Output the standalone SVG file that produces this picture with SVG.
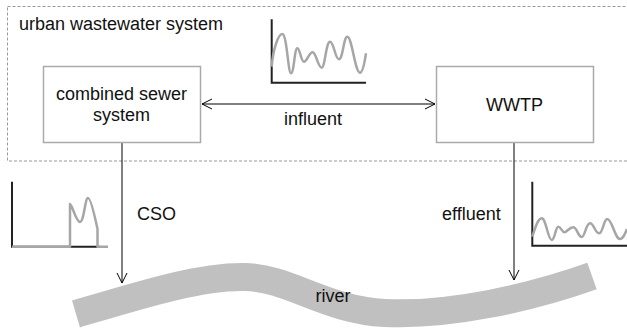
<svg xmlns="http://www.w3.org/2000/svg" width="627" height="331" viewBox="0 0 627 331">
<defs>
<style>
.t{font-family:"Liberation Sans",Arial,sans-serif;font-size:18px;fill:#111}
.box{fill:#fff;stroke:#aaa;stroke-width:1.5}
.con{stroke:#000;stroke-width:1;fill:none}
.axis{stroke:#222;stroke-width:2;fill:none}
.wave{stroke:#a6a6a6;stroke-width:2.5;fill:none;stroke-linejoin:round}
</style>
<marker id="arr" markerUnits="userSpaceOnUse" markerWidth="12" markerHeight="12" refX="10" refY="5" orient="auto-start-reverse" viewBox="0 0 12 10">
<path d="M0,0 L10,5 L0,10" fill="none" stroke="#000" stroke-width="1"/>
</marker>
</defs>
<rect width="627" height="331" fill="#fff"/>
<g id="system-boundary">
<rect x="7.5" y="6.5" width="630" height="154.5" fill="none" stroke="#999" stroke-width="1" stroke-dasharray="3,2"/>
<text class="t" x="19" y="30">urban wastewater system</text>
</g>
<g id="river">
<path d="M76,314 C140,295 200,276 245,277 C290,278 325,310 385,313 C450,316 530,298 592,276" fill="none" stroke="#c0c0c0" stroke-width="28"/>
<text class="t" x="333" y="302" text-anchor="middle">river</text>
</g>
<g id="connectors">
<line class="con" x1="202" y1="104" x2="435" y2="104" marker-start="url(#arr)" marker-end="url(#arr)"/>
<line class="con" x1="122" y1="142" x2="122" y2="283" marker-end="url(#arr)"/>
<line class="con" x1="514" y1="142" x2="514" y2="280" marker-end="url(#arr)"/>
<text class="t" x="284" y="125">influent</text>
<text class="t" x="137" y="220">CSO</text>
<text class="t" x="442" y="220">effluent</text>
</g>
<g id="combined-sewer">
<rect class="box" x="43.5" y="66.5" width="157" height="76"/>
<text class="t" x="121.5" y="100" text-anchor="middle">combined sewer</text>
<text class="t" x="121.5" y="121" text-anchor="middle">system</text>
</g>
<g id="wwtp">
<rect class="box" x="436.5" y="66.5" width="157" height="76"/>
<text class="t" x="514.5" y="111" text-anchor="middle">WWTP</text>
</g>
<g id="influent-chart">
<path class="axis" d="M271.7,19.3 V82.7 H366"/>
<path class="wave" d="M271.7,66.7 C273,50 278,34 282.3,34 C287,34 288,73.3 291,73.3 C294,73.3 294.5,48.3 297.3,48.3 C300,48.3 301,61.7 304,61.7 C307,61.7 309,52.3 312.7,52.3 C316,52.3 318,67.7 321.7,67.7 C325,67.7 326,41.7 330,41.7 C334,41.7 335,59.3 339,59.3 C343,59.3 343.5,36.7 347.3,36.7 C352,36.7 355,72.7 360,72.7 C363,72.7 365,60 366,53.3"/>
</g>
<g id="cso-chart">
<path class="axis" d="M12,181.7 V246.7 H100"/>
<path class="wave" d="M12,246.7 L70,246.7 L70,204 C72,204 76,222 80,222 C84,222 85,198 88,198 C91,198 96,222 97.5,229 L97.5,246.7 L108,246.7"/>
</g>
<g id="effluent-chart">
<path class="axis" d="M532.3,181.7 V245.7 H627"/>
<path class="wave" d="M532.3,236.7 C535,228 538,218.3 541.7,218.3 C546,218.3 548,240 551.7,240 C555,240 555.5,226.7 558.3,226.7 C561,226.7 562,232.3 564.3,232.3 C567,232.3 569,227.3 573.3,227.3 C577,227.3 578,237 581.7,237 C585,237 586,223.3 590,223.3 C594,223.3 595,233.3 599,233.3 C603,233.3 603.5,219 607.3,219 C612,219 615,239 620,239 C623,239 625,234 627,229"/>
</g>
</svg>
